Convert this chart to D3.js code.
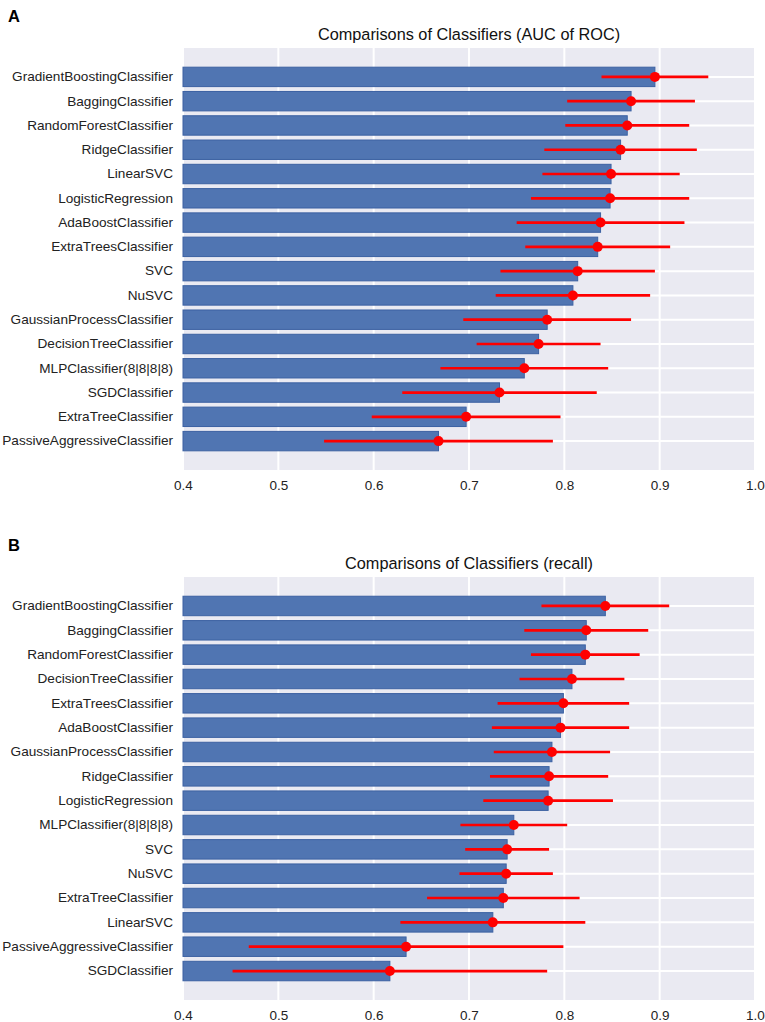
<!DOCTYPE html>
<html>
<head>
<meta charset="utf-8">
<script src="https://cdn.jsdelivr.net/npm/d3@7"></script>
<style>
  html, body { margin: 0; padding: 0; background: #ffffff; }
  svg { display: block; font-family: "Liberation Sans", Arial, Helvetica, sans-serif; }
</style>
</head>
<body>
<svg id="chart" width="765" height="1022"></svg>
<script>
// ---------- DATA ----------
const xTicks = [0.4, 0.5, 0.6, 0.7, 0.8, 0.9, 1.0];

const aucCategories = [
  "GradientBoostingClassifier", "BaggingClassifier", "RandomForestClassifier",
  "RidgeClassifier", "LinearSVC", "LogisticRegression", "AdaBoostClassifier",
  "ExtraTreesClassifier", "SVC", "NuSVC", "GaussianProcessClassifier",
  "DecisionTreeClassifier", "MLPClassifier(8|8|8|8)", "SGDClassifier",
  "ExtraTreeClassifier", "PassiveAggressiveClassifier"
];
const aucMeans = [0.895, 0.870, 0.866, 0.859, 0.849, 0.848, 0.838, 0.835,
                  0.814, 0.809, 0.782, 0.773, 0.758, 0.732, 0.697, 0.668];
const aucStd   = [0.056, 0.067, 0.065, 0.080, 0.072, 0.083, 0.088, 0.076,
                  0.081, 0.081, 0.088, 0.065, 0.088, 0.102, 0.099, 0.120];

const recallCategories = [
  "GradientBoostingClassifier", "BaggingClassifier", "RandomForestClassifier",
  "DecisionTreeClassifier", "ExtraTreesClassifier", "AdaBoostClassifier",
  "GaussianProcessClassifier", "RidgeClassifier", "LogisticRegression",
  "MLPClassifier(8|8|8|8)", "SVC", "NuSVC", "ExtraTreeClassifier",
  "LinearSVC", "PassiveAggressiveClassifier", "SGDClassifier"
];
const recallMeans = [0.843, 0.823, 0.822, 0.808, 0.799, 0.796, 0.787, 0.784,
                     0.783, 0.747, 0.740, 0.739, 0.736, 0.725, 0.634, 0.617];
const recallStd   = [0.067, 0.065, 0.057, 0.055, 0.069, 0.072, 0.061, 0.062,
                     0.068, 0.056, 0.044, 0.049, 0.080, 0.097, 0.165, 0.165];

// ---------- DRAW ----------
const svg = d3.select("#chart");
const plotLeft = 183, plotRight = 755;

function drawPanel(letter, title, cats, means, stds, top, bottom) {
  const g = svg.append("g");
  const x = d3.scaleLinear().domain([0.4, 1.0]).range([plotLeft, plotRight]);
  const y = d3.scaleBand().domain(cats).range([top, bottom])
              .paddingInner(0.2).paddingOuter(0.79);

  // panel letter
  g.append("text").attr("x", 8).attr("y", top - 26)
    .attr("font-size", 16.5).attr("font-weight", "bold").attr("fill", "#000")
    .text(letter);

  // title
  g.append("text").attr("x", (plotLeft + plotRight) / 2).attr("y", top - 8.5)
    .attr("text-anchor", "middle").attr("font-size", 16.3).attr("fill", "#111")
    .text(title);

  // background
  g.append("rect").attr("x", plotLeft).attr("y", top)
    .attr("width", plotRight - plotLeft).attr("height", bottom - top)
    .attr("fill", "#EAEAF2");

  // vertical grid
  g.append("g").selectAll("line").data(xTicks).join("line")
    .attr("x1", d => x(d)).attr("x2", d => x(d))
    .attr("y1", top).attr("y2", bottom)
    .attr("stroke", "#ffffff").attr("stroke-width", 2);

  // horizontal grid at category centres
  g.append("g").selectAll("line").data(cats).join("line")
    .attr("x1", plotLeft).attr("x2", plotRight)
    .attr("y1", d => y(d) + y.bandwidth() / 2).attr("y2", d => y(d) + y.bandwidth() / 2)
    .attr("stroke", "#ffffff").attr("stroke-width", 2);

  const rows = cats.map((c, i) => ({ c, m: means[i], s: stds[i] }));

  // bars
  g.append("g").selectAll("rect").data(rows).join("rect")
    .attr("x", x(0.4)).attr("y", d => y(d.c))
    .attr("width", d => x(d.m) - x(0.4)).attr("height", y.bandwidth())
    .attr("fill", "#4A71B0").attr("fill-opacity", 0.97)
    .attr("stroke", "#3C61A2").attr("stroke-width", 1);

  // error bars
  g.append("g").selectAll("line").data(rows).join("line")
    .attr("x1", d => x(d.m - d.s)).attr("x2", d => x(d.m + d.s))
    .attr("y1", d => y(d.c) + y.bandwidth() / 2).attr("y2", d => y(d.c) + y.bandwidth() / 2)
    .attr("stroke", "#FF0000").attr("stroke-width", 2.7);

  g.append("g").selectAll("circle").data(rows).join("circle")
    .attr("cx", d => x(d.m)).attr("cy", d => y(d.c) + y.bandwidth() / 2)
    .attr("r", 5).attr("fill", "#FF0000");

  // y axis labels
  const yAxis = d3.axisLeft(y).tickSize(0).tickPadding(10);
  const ya = g.append("g").attr("transform", `translate(${plotLeft},0)`).call(yAxis);
  ya.select(".domain").remove();
  ya.selectAll("text").attr("font-size", 13.6).attr("fill", "#222")
    .attr("font-family", "'Liberation Sans', Arial, sans-serif");

  // x axis
  const xAxis = d3.axisBottom(x).tickValues(xTicks).tickFormat(d3.format(".1f"))
                  .tickSize(0).tickPadding(10);
  const xa = g.append("g").attr("transform", `translate(0,${bottom})`).call(xAxis);
  xa.select(".domain").remove();
  xa.selectAll("text").attr("font-size", 13.5).attr("fill", "#222")
    .attr("font-family", "'Liberation Sans', Arial, sans-serif");
}

drawPanel("A", "Comparisons of Classifiers (AUC of ROC)",
          aucCategories, aucMeans, aucStd, 48, 470);
drawPanel("B", "Comparisons of Classifiers (recall)",
          recallCategories, recallMeans, recallStd, 577, 1000);
</script>
</body>
</html>
